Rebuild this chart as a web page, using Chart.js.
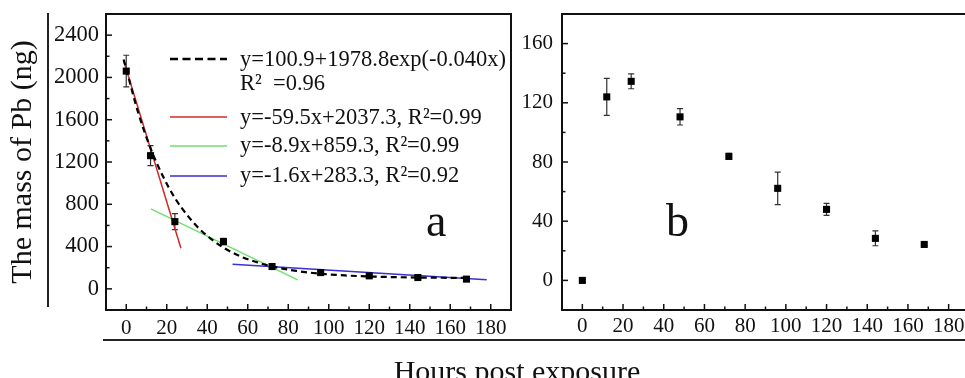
<!DOCTYPE html>
<html>
<head>
<meta charset="utf-8">
<title>Pb mass</title>
<script src="https://cdn.jsdelivr.net/npm/chart.js@4.4.0/dist/chart.umd.min.js"></script>
<style>
    html, body { margin: 0; padding: 0; background: #fff; overflow: hidden; }
    #wrap { position: relative; width: 965px; height: 378px; overflow: hidden; }
    #chartA { position: absolute; left: 0; top: 0; }
    #chartB { position: absolute; left: 480px; top: 0; }
    .vline { position: absolute; left: 47px; top: 13px; width: 2px; height: 294px; background: #222; }
    .hline { position: absolute; left: 103px; top: 339px; width: 862px; height: 2px; background: #222; }
    #xtitle {
        position: absolute; left: 517px; top: 356px; transform: translateX(-50%);
        white-space: nowrap; font: 30px/30px 'Liberation Serif', 'Times New Roman', serif; color: #111;
    }
</style>
</head>
<body>
<div id="wrap">
    <canvas id="chartA" width="530" height="378"></canvas>
    <canvas id="chartB" width="520" height="378"></canvas>
    <div class="vline"></div>
    <div class="hline"></div>
    <div id="xtitle">Hours post exposure</div>
</div>
<script>
// ===============================
// Data
// ===============================
const xTickLabels = [0, 20, 40, 60, 80, 100, 120, 140, 160, 180];
const yTickLabelsA = [0, 400, 800, 1200, 1600, 2000, 2400];
const yTickLabelsB = [0, 40, 80, 120, 160];

const hours = [0, 12, 24, 48, 72, 96, 120, 144, 168];

// panel a - mass of Pb
const pbMass = [2060, 1260, 636, 447, 211, 154, 123, 107, 92];
const pbMassErr = [150, 95, 75, 30, 15, 15, 12, 12, 10];

// fitted curves
const expFitX = [-1.3, 0, 6, 12, 18, 24, 30, 36, 42, 48, 56, 64, 72, 84, 96, 108, 120, 132, 144, 156, 168];
const expFitY = [2170, 2080, 1660, 1330, 1070, 860, 700, 570, 470, 390, 310, 255, 212, 170, 143, 127, 117, 111, 107, 105, 103];
const redFitX = [-1.3, 27];
const redFitY = [2160, 385];
const greenFitX = [12.2, 84.6];
const greenFitY = [756, 85];
const blueFitX = [52.5, 178];
const blueFitY = [233, 85];

// panel b
const panelB = [0, 124, 134.5, 110.5, 83.8, 62.2, 48, 28.4, 24.3];
const panelBErr = [0, 12.5, 5, 5.5, 2, 11, 4, 5, 1];

const legendLabels = [
    'y=100.9+1978.8exp(-0.040x)',
    'R\u00b2  =0.96',
    'y=-59.5x+2037.3, R\u00b2=0.99',
    'y=-8.9x+859.3, R\u00b2=0.99',
    'y=-1.6x+283.3, R\u00b2=0.92'
];

const SERIF = "'Liberation Serif', 'Times New Roman', serif";
const INK = '#111';

function toXY(xs, ys) {
    return xs.map((x, i) => ({ x: x, y: ys[i] }));
}

// ===============================
// Plugins
// ===============================
// box frame + inward ticks (major and minor)
const frameTicks = {
    id: 'frameTicks',
    afterDraw(chart) {
        const { ctx, chartArea: a, scales } = chart;
        ctx.save();
        ctx.strokeStyle = INK;
        ctx.lineWidth = 2;
        ctx.strokeRect(a.left, a.top, a.right - a.left, a.bottom - a.top);

        ctx.lineWidth = 1.5;
        const drawTicks = (scale, horizontal) => {
            const vals = scale.ticks.map(t => t.value);
            const step = vals[1] - vals[0];
            const minors = new Set();
            vals.forEach(v => {
                [v - step / 2, v + step / 2].forEach(m => {
                    if (m > scale.min && m < scale.max) minors.add(m);
                });
            });
            const mark = (v, len) => {
                const p = scale.getPixelForValue(v);
                ctx.beginPath();
                if (horizontal) {
                    ctx.moveTo(p, a.bottom);
                    ctx.lineTo(p, a.bottom - len);
                } else {
                    ctx.moveTo(a.left, p);
                    ctx.lineTo(a.left + len, p);
                }
                ctx.stroke();
            };
            vals.forEach(v => mark(v, 6));
            minors.forEach(v => mark(v, 3.5));
        };
        drawTicks(scales.x, true);
        drawTicks(scales.y, false);
        ctx.restore();
    }
};

// vertical error bars under the squares
const errorBars = {
    id: 'errorBars',
    beforeDatasetsDraw(chart, args, opts) {
        if (!opts || !opts.err) return;
        const { ctx, scales } = chart;
        const data = chart.data.datasets[opts.dataset].data;
        ctx.save();
        ctx.strokeStyle = '#333';
        ctx.lineWidth = 1.2;
        data.forEach((pt, i) => {
            const e = opts.err[i];
            if (!e) return;
            const x = scales.x.getPixelForValue(pt.x);
            const y1 = scales.y.getPixelForValue(pt.y + e);
            const y2 = scales.y.getPixelForValue(pt.y - e);
            ctx.beginPath();
            ctx.moveTo(x, y1); ctx.lineTo(x, y2);
            ctx.moveTo(x - 3, y1); ctx.lineTo(x + 3, y1);
            ctx.moveTo(x - 3, y2); ctx.lineTo(x + 3, y2);
            ctx.stroke();
        });
        ctx.restore();
    }
};

// legend inside panel a and panel letters
const annotations = {
    id: 'annotations',
    afterDraw(chart, args, opts) {
        const { ctx } = chart;
        ctx.save();
        ctx.fillStyle = INK;
        ctx.textBaseline = 'alphabetic';
        ctx.textAlign = 'left';
        (opts.samples || []).forEach(s => {
            ctx.beginPath();
            ctx.strokeStyle = s.color;
            ctx.lineWidth = s.width;
            ctx.setLineDash(s.dash || []);
            ctx.moveTo(s.x1, s.y);
            ctx.lineTo(s.x2, s.y);
            ctx.stroke();
        });
        ctx.setLineDash([]);
        (opts.texts || []).forEach(t => {
            ctx.font = t.size + 'px ' + SERIF;
            ctx.fillText(t.text, t.x, t.y);
        });
        ctx.restore();
    }
};

// ===============================
// Shared axis setup
// ===============================
function fixedAxis(size, horizontal) {
    return function (scale) {
        if (horizontal) scale.height = size; else scale.width = size;
        scale.paddingTop = 0;
        scale.paddingBottom = 0;
        scale.paddingLeft = 0;
        scale.paddingRight = 0;
    };
}

function xAxis(padding) {
    return {
        type: 'linear',
        min: -10,
        max: 190,
        grid: { display: false, drawTicks: false },
        border: { display: false },
        afterBuildTicks: s => { s.ticks = xTickLabels.map(v => ({ value: v })); },
        afterFit: fixedAxis(68, true),
        ticks: {
            autoSkip: false,
            maxRotation: 0,
            padding: padding,
            color: INK,
            font: { family: SERIF, size: 21 },
            callback: v => String(v)
        }
    };
}

function yAxis(min, max, labels, width, padding, fontSize, title) {
    return {
        type: 'linear',
        min: min,
        max: max,
        grid: { display: false, drawTicks: false },
        border: { display: false },
        afterBuildTicks: s => { s.ticks = labels.map(v => ({ value: v })); },
        afterFit: fixedAxis(width, false),
        title: title ? {
            display: true,
            text: title,
            color: INK,
            font: { family: SERIF, size: 30 },
            padding: { top: 5, bottom: 0 }
        } : { display: false },
        ticks: {
            autoSkip: false,
            padding: padding,
            color: INK,
            font: { family: SERIF, size: fontSize },
            callback: v => String(v)
        }
    };
}

function fitLine(xs, ys, color, width, dash) {
    return {
        type: 'line',
        data: toXY(xs, ys),
        borderColor: color,
        borderWidth: width,
        borderDash: dash || [],
        pointRadius: 0,
        fill: false,
        cubicInterpolationMode: 'monotone'
    };
}

function pointSet(ys) {
    return {
        type: 'scatter',
        data: toXY(hours, ys),
        pointStyle: 'rect',
        pointRadius: 5,
        backgroundColor: '#000',
        borderColor: '#000',
        borderWidth: 0
    };
}

// ===============================
// Charts
// ===============================
function initCharts() {
    Chart.defaults.font.family = SERIF;

    new Chart(document.getElementById('chartA'), {
        type: 'scatter',
        data: {
            datasets: [
                pointSet(pbMass),
                fitLine(expFitX, expFitY, '#000', 2.2, [6, 4]),
                fitLine(redFitX, redFitY, '#d02a2a', 1.5),
                fitLine(greenFitX, greenFitY, '#6ee06e', 1.5),
                fitLine(blueFitX, blueFitY, '#3a2ed6', 1.5)
            ]
        },
        options: {
            responsive: false,
            animation: false,
            layout: { padding: { top: 14, right: 19, bottom: 0, left: 0 } },
            scales: {
                x: xAxis(6),
                y: yAxis(-200, 2600, yTickLabelsA, 106, 7, 22.5, 'The mass of Pb (ng)')
            },
            plugins: {
                legend: { display: false },
                tooltip: { enabled: false },
                errorBars: { dataset: 0, err: pbMassErr },
                annotations: {
                    samples: [
                        { x1: 170, x2: 227, y: 59, color: '#000', width: 2.5, dash: [8, 4.5] },
                        { x1: 170, x2: 227, y: 117, color: '#d02a2a', width: 1.5 },
                        { x1: 170, x2: 227, y: 146, color: '#6ee06e', width: 1.5 },
                        { x1: 170, x2: 227, y: 176, color: '#3a2ed6', width: 1.5 }
                    ],
                    texts: [
                        { text: legendLabels[0], x: 240, y: 66, size: 22.5 },
                        { text: legendLabels[1], x: 240, y: 90, size: 22.5 },
                        { text: legendLabels[2], x: 240, y: 124, size: 22.5 },
                        { text: legendLabels[3], x: 240, y: 152, size: 22.5 },
                        { text: legendLabels[4], x: 240, y: 182, size: 22.5 },
                        { text: 'a', x: 426, y: 236, size: 46 }
                    ]
                }
            }
        },
        plugins: [errorBars, frameTicks, annotations]
    });

    new Chart(document.getElementById('chartB'), {
        type: 'scatter',
        data: {
            datasets: [pointSet(panelB)]
        },
        options: {
            responsive: false,
            animation: false,
            layout: { padding: { top: 14, right: 31, bottom: 0, left: 0 } },
            scales: {
                x: xAxis(4),
                y: yAxis(-20, 180, yTickLabelsB, 82, 9, 21, null)
            },
            plugins: {
                legend: { display: false },
                tooltip: { enabled: false },
                errorBars: { dataset: 0, err: panelBErr },
                annotations: {
                    texts: [{ text: 'b', x: 186, y: 236, size: 46 }]
                }
            }
        },
        plugins: [errorBars, frameTicks, annotations]
    });
}

document.addEventListener("DOMContentLoaded", () => {
    initCharts();
});
</script>
</body>
</html>
